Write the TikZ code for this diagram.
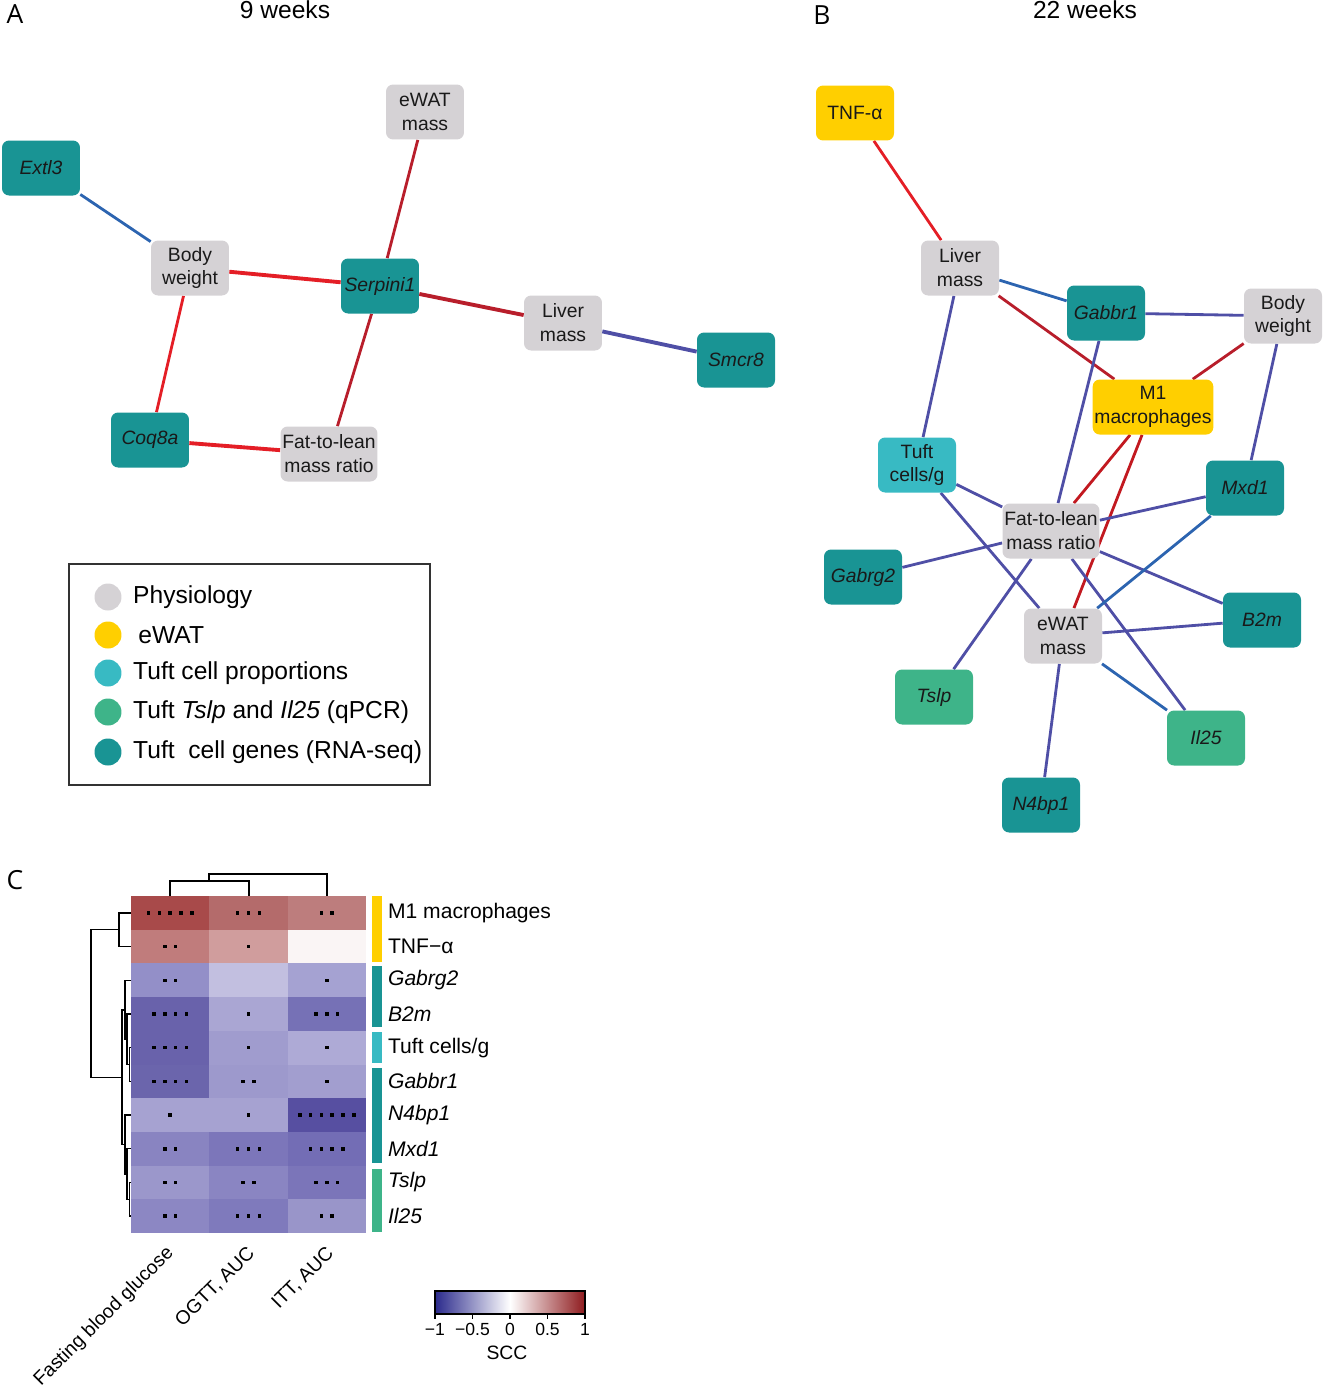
\documentclass[tikz,border=0pt]{standalone}
\usepackage{fontspec}
\setmainfont{Liberation Sans}
\newfontfamily\panelfont{Open Sans}
\usetikzlibrary{backgrounds}

\definecolor{physio}{HTML}{D5D2D5}
\definecolor{ewat}{HTML}{FFCF00}
\definecolor{tuftprop}{HTML}{38BAC3}
\definecolor{tuftqpcr}{HTML}{3EB489}
\definecolor{tuftseq}{HTML}{199494}
\definecolor{posred}{HTML}{E41E26}
\definecolor{posdark}{HTML}{B81E2B}
\definecolor{negblue}{HTML}{2C64B0}
\definecolor{negpurple}{HTML}{4F4FA6}
\definecolor{sccneg}{HTML}{2B2A8C}
\definecolor{sccpos}{HTML}{8E1B1E}

\tikzset{
  box/.style={rounded corners=4pt, minimum width=1.56cm, minimum height=1.1cm,
    inner xsep=1pt, align=center, text=black!90, font=\fontsize{11}{13.6}\selectfont},
  physbox/.style={box, fill=physio},
  ewatbox/.style={box, fill=ewat},
  propbox/.style={box, fill=tuftprop},
  qpcrbox/.style={box, fill=tuftqpcr},
  seqbox/.style={box, fill=tuftseq},
  link/.style={line width=1.6pt},
  boldlink/.style={line width=2.2pt},
  dendro/.style={line width=0.8pt},
  panel/.style={font=\panelfont\fontsize{15}{18}\selectfont},
  title/.style={font=\fontsize{14}{17}\selectfont},
}

\begin{document}
\begin{tikzpicture}[x=0.02cm,y=-0.02cm]
\useasboundingbox (0,0) rectangle (1325,1390);

% panel letters and titles
\node[panel] (labA) at (15,14) {A};
\node[title] (titA) at (285,10) {9 weeks};
\node[panel] (labB) at (822,15) {B};
\node[title] (titB) at (1085,10) {22 weeks};
\node[panel] (labC) at (15,880) {C};

% A: 9 weeks
\node[seqbox] (extl3) at (41,168) {\textit{Extl3}};
\node[physbox] (ewatA) at (425,112) {eWAT\\mass};
\node[physbox] (bwA) at (190,268) {Body\\weight};
\node[seqbox] (serpini1) at (380,286) {\textit{Serpini1}};
\node[physbox] (liverA) at (563,323) {Liver\\mass};
\node[seqbox] (smcr8) at (736,360) {\textit{Smcr8}};
\node[seqbox] (coq8a) at (150,440) {\textit{Coq8a}};
\node[physbox] (fatA) at (329,454) {Fat-to-lean\\mass ratio};

\begin{scope}[on background layer]
\draw[link, negblue] (extl3) -- (bwA);
\draw[boldlink, posred] (bwA) -- (serpini1);
\draw[link, posdark] (serpini1) -- (ewatA);
\draw[boldlink, posdark] (serpini1) -- (liverA);
\draw[boldlink, negpurple] (liverA) -- (smcr8);
\draw[link, posred] (bwA) -- (coq8a);
\draw[boldlink, posred] (coq8a) -- (fatA);
\draw[link, posdark] (serpini1) -- (fatA);
\end{scope}

% B: 22 weeks
\node[ewatbox] (tnf) at (855,113) {TNF-α};
\node[physbox] (liverB) at (960,268) {Liver\\mass};
\node[seqbox] (gabbr1) at (1106,313) {\textit{Gabbr1}};
\node[physbox] (bwB) at (1283,316) {Body\\weight};
\node[ewatbox, minimum width=2.38cm] (m1) at (1153,407) {M1\\macrophages};
\node[propbox] (tuft) at (917,465) {Tuft\\cells/g};
\node[seqbox] (mxd1) at (1245,488) {\textit{Mxd1}};
\node[physbox] (fatB) at (1051,531) {Fat-to-lean\\mass ratio};
\node[seqbox] (gabrg2) at (863,577) {\textit{Gabrg2}};
\node[seqbox] (b2m) at (1262,620) {\textit{B2m}};
\node[physbox] (ewatB) at (1063,636) {eWAT\\mass};
\node[qpcrbox] (tslp) at (934,697) {\textit{Tslp}};
\node[qpcrbox] (il25) at (1206,738) {\textit{Il25}};
\node[seqbox] (n4bp1) at (1041,805) {\textit{N4bp1}};

\begin{scope}[on background layer]
\draw[link, posred] (tnf) -- (liverB);
\draw[link, negblue] (liverB) -- (gabbr1);
\draw[link, posdark] (liverB) -- (m1);
\draw[link, negpurple] (liverB) -- (tuft);
\draw[link, negpurple] (gabbr1) -- (bwB);
\draw[link, negpurple] (gabbr1) -- (fatB);
\draw[link, posdark] (bwB) -- (m1);
\draw[link, negpurple] (bwB) -- (mxd1);
\draw[link, posred!85!black] (m1) -- (fatB);
\draw[link, posred!85!black] (m1) -- (ewatB);
\draw[link, negpurple] (tuft) -- (fatB);
\draw[link, negpurple] (tuft) -- (ewatB);
\draw[link, negpurple] (fatB) -- (mxd1);
\draw[link, negpurple] (fatB) -- (gabrg2);
\draw[link, negpurple] (fatB) -- (b2m);
\draw[link, negpurple] (fatB) -- (tslp);
\draw[link, negpurple] (fatB) -- (il25);
\draw[link, negblue] (mxd1) -- (ewatB);
\draw[link, negpurple] (ewatB) -- (b2m);
\draw[link, negblue] (ewatB) -- (il25);
\draw[link, negpurple] (ewatB) -- (n4bp1);
\end{scope}

% legend
\draw[line width=0.8pt, black!80] (69,564) rectangle (430,785);
\foreach \y/\c/\t in {597/physio/Physiology, 635/ewat/\hspace{3pt}eWAT,
    673/tuftprop/Tuft cell proportions,
    712/tuftqpcr/Tuft \textit{Tslp} and \textit{Il25} (qPCR),
    752/tuftseq/Tuft\ \ cell genes (RNA-seq)}{
  \fill[\c] (108,\y) circle (0.27cm);
  \node[anchor=west, font=\fontsize{14}{16}\selectfont] (lg\c) at (127,\y) {\t};
}

% C: heatmap
\foreach \r/\c/\h/\n in {1/1/A84A4A/5, 1/2/B46B6B/3, 1/3/BD7D7D/2,
    2/1/C07C7C/2, 2/2/D09D9D/1, 2/3/FAF5F5/0,
    3/1/938FC8/2, 3/2/C2BFE0/0, 3/3/A5A2D2/1,
    4/1/6962AB/4, 4/2/AAA6D3/1, 4/3/7671B6/3,
    5/1/6962AB/4, 5/2/A09CCE/1, 5/3/AEAAD6/1,
    6/1/6B65AC/4, 6/2/9D99CC/2, 6/3/A29ECF/1,
    7/1/A6A2D1/1, 7/2/A6A2D1/1, 7/3/574FA1/6,
    8/1/8984C1/2, 8/2/7C76BA/3, 8/3/736DB5/4,
    9/1/9B97CB/2, 9/2/8A85C2/2, 9/3/7B75B9/3,
    10/1/8C87C3/2, 10/2/7F7ABC/3, 10/3/9995C9/2}{
  \definecolor{cellc}{HTML}{\h}
  \fill[cellc] ({131+(\c-1)*78.33},{896+(\r-1)*33.7}) rectangle ++(78.33,33.7);
  \ifnum\n>0
    \foreach \k in {1,...,\n}
      \fill ({131+(\c-0.5)*78.33+(\k-(\n+1)/2)*10.8-1.75},{896+(\r-0.5)*33.7-1.75}) rectangle ++(3.5,3.5);
  \fi
}

% column dendrogram
\draw[dendro] (170,896) -- (170,881) -- (249,881) -- (249,896);
\draw[dendro] (209,881) -- (209,874) -- (327,874) -- (327,896);

% row dendrogram
\draw[dendro] (131,912.9) -- (119,912.9) -- (119,946.6) -- (131,946.6);
\draw[dendro] (119,929.7) -- (91,929.7) -- (91,1077.2) -- (122,1077.2);
\draw[dendro] (131,1047.6) -- (129.5,1047.6) -- (129.5,1081.3) -- (131,1081.3);
\draw[dendro] (131,1013.9) -- (127,1013.9) -- (127,1064.5) -- (129.5,1064.5);
\draw[dendro] (131,980.3) -- (125,980.3) -- (125,1039.2) -- (127,1039.2);
\draw[dendro] (131,1182.4) -- (129.5,1182.4) -- (129.5,1216.1) -- (131,1216.1);
\draw[dendro] (131,1148.7) -- (127,1148.7) -- (127,1199.3) -- (129.5,1199.3);
\draw[dendro] (131,1115) -- (125,1115) -- (125,1174) -- (127,1174);
\draw[dendro] (125,1009.8) -- (122,1009.8) -- (122,1144.5) -- (125,1144.5);

% group bars
\fill[ewat] (372,896) rectangle (382,962);
\fill[tuftseq] (372,966) rectangle (382,1027);
\fill[tuftprop] (372,1032) rectangle (382,1063);
\fill[tuftseq] (372,1068) rectangle (382,1163);
\fill[tuftqpcr] (372,1169) rectangle (382,1232);

% row labels
\foreach \r/\t in {1/M1 macrophages, 2/TNF−α, 3/\textit{Gabrg2}, 4/\textit{B2m},
    5/{Tuft cells/g}, 6/\textit{Gabbr1}, 7/\textit{N4bp1}, 8/\textit{Mxd1},
    9/\textit{Tslp}, 10/\textit{Il25}}
  \node[anchor=west, inner xsep=1pt, font=\fontsize{12}{14}\selectfont] (row\r) at (386,{896+(\r-0.5)*33.7}) {\t};

% column labels
\node[rotate=45, anchor=east, font=\fontsize{11}{13}\selectfont] (colfbg) at (175,1246) {Fasting blood glucose};
\node[rotate=45, anchor=east, font=\fontsize{11}{13}\selectfont] (cologtt) at (256,1246) {OGTT, AUC};
\node[rotate=45, anchor=east, font=\fontsize{11}{13}\selectfont] (colitt) at (335,1246) {ITT, AUC};

% colour key
\shade[left color=sccneg, right color=sccpos, middle color=white] (435,1291) rectangle (585,1314);
\draw[line width=0.6pt] (435,1291) rectangle (585,1314);
\foreach \x/\v in {435/−1, 472.5/−0.5, 510/0, 547.5/0.5, 585/1}{
  \draw[line width=0.6pt] (\x,1314) -- (\x,1319);
  \node[anchor=north, inner sep=1pt, font=\fontsize{10}{12}\selectfont] at (\x,1321) {\v};
}
\node[font=\fontsize{11}{13}\selectfont] (scc) at (507,1353) {SCC};
\end{tikzpicture}
\end{document}
